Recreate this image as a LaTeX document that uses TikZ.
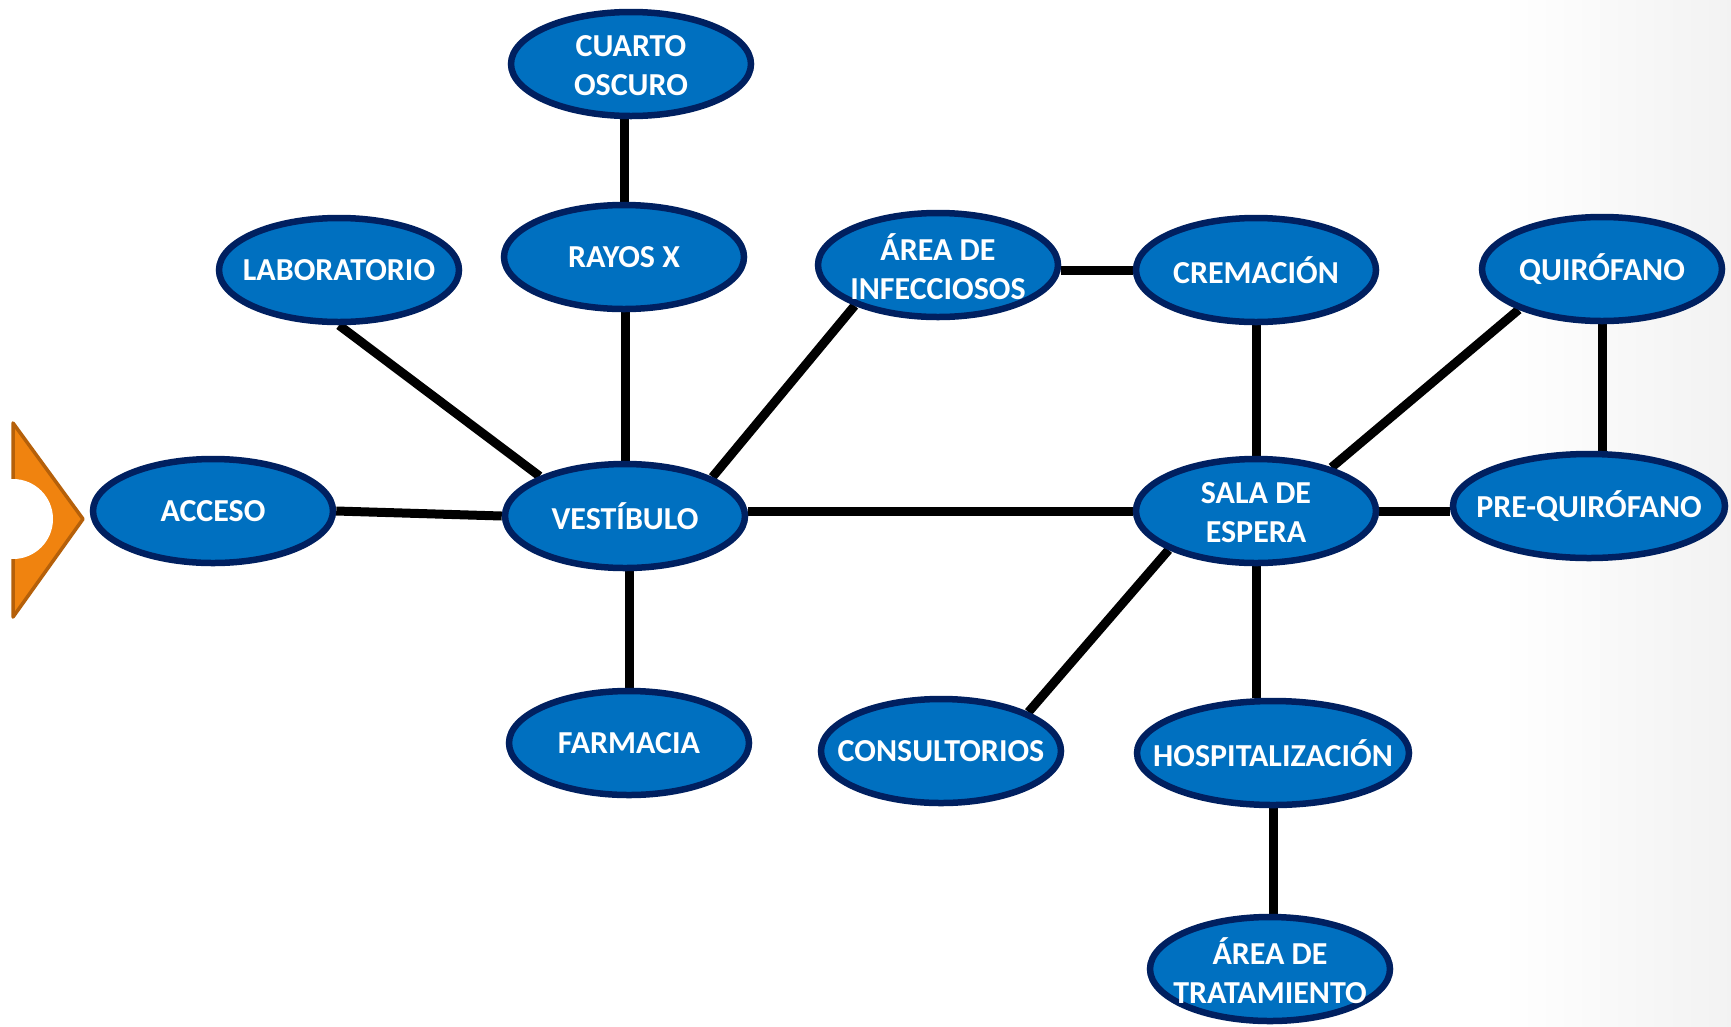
\documentclass[tikz,border=0pt]{standalone}
\usepackage{fontspec}
\setmainfont{Carlito}
\usetikzlibrary{shapes.geometric}
\pgfdeclarelayer{background}
\pgfsetlayers{background,main}
\definecolor{roomblue}{HTML}{0070C0}
\definecolor{navy}{HTML}{002060}
\definecolor{orangefill}{HTML}{F0830F}
\definecolor{orangeline}{HTML}{B5600A}
\tikzset{
  rtext/.style={text=white, font=\bfseries\fontsize{32}{39}\selectfont, align=center},
  roombase/.style={ellipse, draw=navy, fill=roomblue, line width=6.5pt,
    minimum width=240pt, minimum height=104pt, inner sep=0pt},
  room/.style={roombase, label={[rtext]center:#1}},
  tworoom/.style={roombase, label={[rtext, yshift=-2pt]center:#1}},
  wideroom/.style={room=#1, minimum width=272pt},
  link/.style={line width=9pt, draw=black}
}
\begin{document}
\begin{tikzpicture}[x=1pt,y=-1pt]
\useasboundingbox (0,0) rectangle (1731,1026);
\begin{pgfonlayer}{background}
\fill[white] (0,0) rectangle (1731,1026);
\shade[left color=white, right color=black!5] (1500,0) rectangle (1731,1026);
\end{pgfonlayer}

% entry marker
\filldraw[fill=orangefill, draw=orangeline, line width=3.5pt, line join=round]
  (13,423) -- (83,519) -- (13,617) -- cycle;
\fill[white] (13,519) circle[radius=40];
\fill[white] (0,470) rectangle (11,568);

% rooms
\node[tworoom={CUARTO\\OSCURO}] (cuarto) at (631,64) {};
\node[room={RAYOS X}] (rayos) at (624,257) {};
\node[room={LABORATORIO}] (lab) at (339,270) {};
\node[tworoom={ÁREA DE\\INFECCIOSOS}] (infec) at (938,265) {};
\node[room={CREMACIÓN}] (crem) at (1256,270) {};
\node[room={QUIRÓFANO}] (quir) at (1602,269) {};
\node[room={ACCESO}] (acceso) at (213,511) {};
\node[room={VESTÍBULO}] (vest) at (625,516) {};
\node[tworoom={SALA DE\\ESPERA}] (sala) at (1256,511) {};
\node[wideroom={PRE-QUIRÓFANO}] (preq) at (1589,506) {};
\node[room={FARMACIA}] (farm) at (629,743) {};
\node[room={CONSULTORIOS}] (cons) at (941,751) {};
\node[wideroom={HOSPITALIZACIÓN}] (hosp) at (1273,753) {};
\node[tworoom={ÁREA DE\\TRATAMIENTO}] (trat) at (1270,969) {};

% connectors
\begin{pgfonlayer}{background}
\draw[link] (rayos.north) -- (rayos.north |- cuarto.south);
\draw[link] (vest.north) -- (vest.north |- rayos.south);
\draw[link] (lab.south) -- (vest.155);
\draw[link] (infec.206) -- (vest.24);
\draw[link] (crem.west) -- (crem.west -| infec.east);
\draw[link] (crem.south) -- (sala.north);
\draw[link] (quir.206) -- (sala.30);
\draw[link] (quir.south) -- (quir.south |- preq.north);
\draw[link] (sala.east) -- (sala.east -| preq.west);
\draw[link] (sala.west) -- (sala.west -| vest.east);
\draw[link] (acceso.east) -- (vest.west);
\draw[link] (farm.north) -- (farm.north |- vest.south);
\draw[link] (sala.204) -- (cons.24);
\draw[link] (sala.south) -- (sala.south |- hosp.north);
\draw[link] (hosp.south) -- (hosp.south |- trat.north);
\end{pgfonlayer}
\end{tikzpicture}
\end{document}
